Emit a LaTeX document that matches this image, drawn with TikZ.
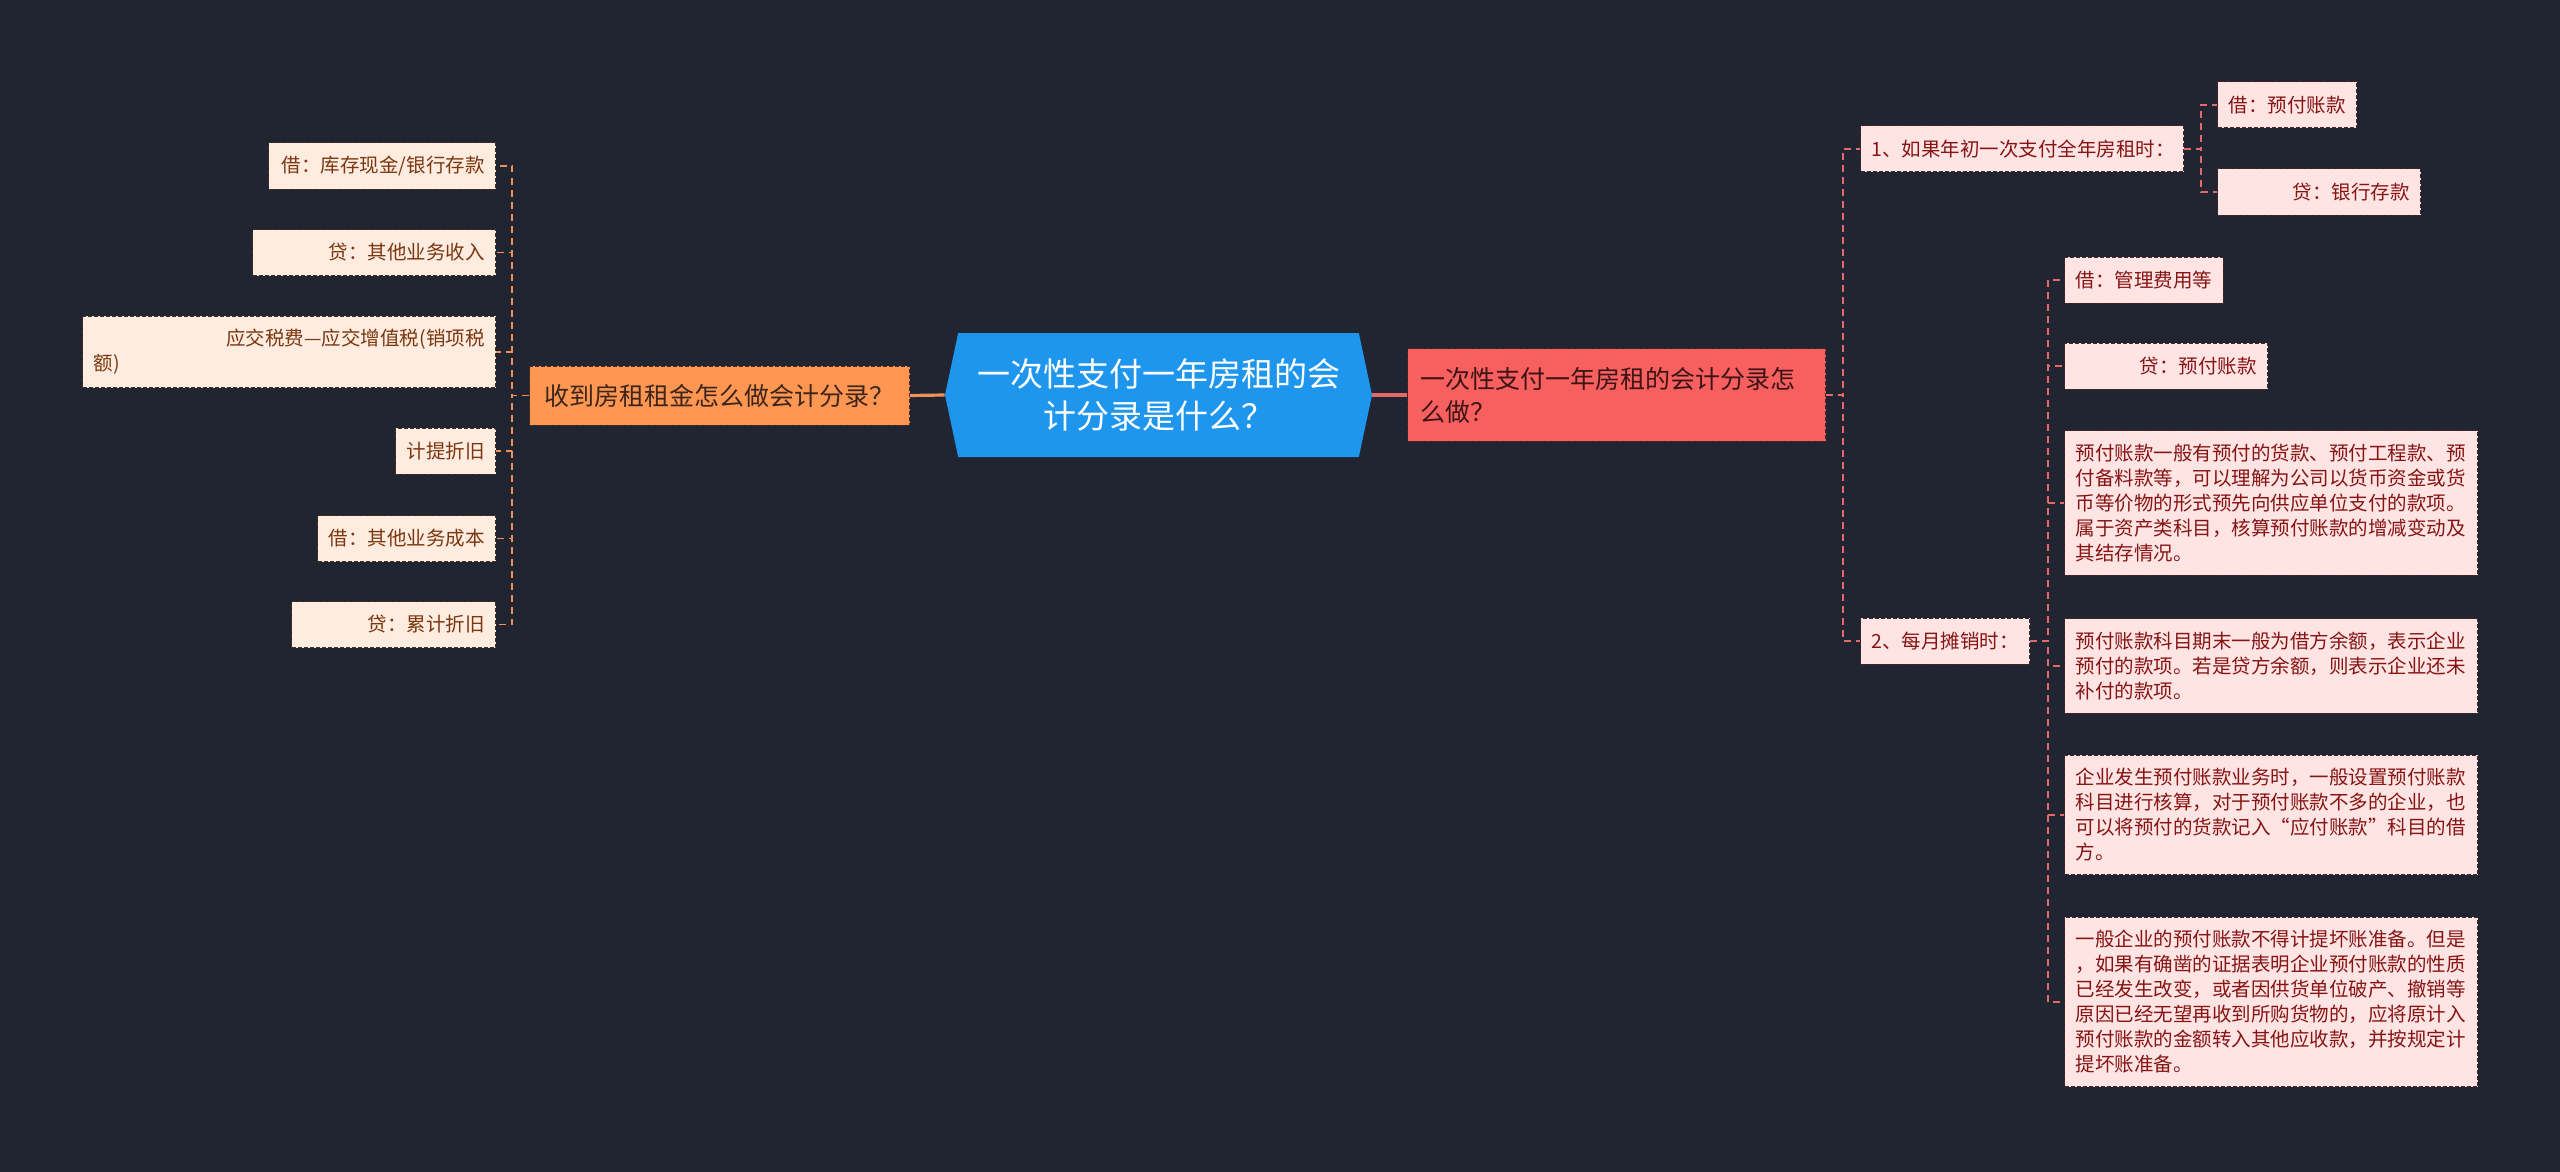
\documentclass[tikz,border=0pt]{standalone}
\usepackage{fontspec}
\newfontfamily\cjk{Noto Sans CJK SC}
\usetikzlibrary{shapes.symbols}

\definecolor{bgc}{RGB}{33,36,49}
\definecolor{rootc}{RGB}{30,150,238}
\definecolor{lmainc}{RGB}{255,150,82}
\definecolor{lleafc}{RGB}{255,236,224}
\definecolor{ltextc}{RGB}{122,55,15}
\definecolor{lborderc}{RGB}{70,45,35}
\definecolor{llinec}{RGB}{240,145,90}
\definecolor{rmainc}{RGB}{248,95,95}
\definecolor{rleafc}{RGB}{255,228,228}
\definecolor{rtextc}{RGB}{135,20,20}
\definecolor{rborderc}{RGB}{75,35,40}
\definecolor{rlinec}{RGB}{230,105,105}

\tikzset{
  box/.style={font=\cjk\fontsize{9.75}{12.5}\selectfont, inner xsep=5.5pt,
    inner ysep=6.6pt, minimum height=23pt, line width=0.5pt,
    dash pattern=on 2pt off 1pt},
  lleaf/.style={box, fill=lleafc, draw=lborderc, text=ltextc, anchor=east, align=right},
  rleaf/.style={box, fill=rleafc, draw=rborderc, text=rtextc, anchor=west, align=left},
  lline/.style={draw=llinec, line width=0.9pt, dash pattern=on 3.5pt off 2.5pt},
  rline/.style={draw=rlinec, line width=0.9pt, dash pattern=on 3.5pt off 2.5pt}
}

\begin{document}
\begin{tikzpicture}[x=0.5pt,y=-0.5pt]
  % page, in pixels of the picture (y down)
  \fill[bgc] (0,0) rectangle (2560,1172);

  % centre topic
  \node[signal, signal to=west and east, signal pointer angle=156,
    fill=rootc, minimum width=213.5pt, minimum height=62pt, inner sep=0pt,
    text=white, font=\cjk\fontsize{16.5}{21}\selectfont, align=center]
    (root) at (1158.5,395) {一次性支付一年房租的会\\计分录是什么？};

  % left branch
  \node[box, fill=lmainc, draw=lborderc, text={rgb,255:red,60;green,38;blue,28},
    font=\cjk\fontsize{12.5}{16.5}\selectfont, minimum width=190pt,
    minimum height=29.5pt, inner xsep=7.5pt, anchor=east]
    (lq) at (910,395.5) {收到房租租金怎么做会计分录？};
  \node[lleaf, text width=102.5pt] (l1) at (496,166) {借：库存现金/银行存款};
  \node[lleaf, text width=110.5pt] (l2) at (496,252.5) {贷：其他业务收入};
  \node[lleaf, text width=195.5pt, align=left] (l3) at (496,352)
    {\hspace*{\fill}应交税费—应交增值税(销项税\\额)};
  \node[lleaf, text width=39pt] (l4) at (496,451) {计提折旧};
  \node[lleaf, text width=78pt] (l5) at (496,538.5) {借：其他业务成本};
  \node[lleaf, text width=91pt] (l6) at (496,624.5) {贷：累计折旧};

  \draw[llinec, line width=1.6pt] (root.west) -- (lq.east);
  \foreach \n in {l1,l2,l3,l4,l5,l6}
    \draw[lline] (lq.west) -- ++(-17,0) |- (\n.east);

  % right branch
  \node[box, fill=rmainc, draw=rborderc, text={rgb,255:red,60;green,20;blue,22},
    font=\cjk\fontsize{12.5}{16.5}\selectfont, text width=196pt,
    inner xsep=6.5pt, inner ysep=9pt, align=left, anchor=west]
    (rq) at (1407,395) {一次性支付一年房租的会计分录怎\\么做？};

  \node[rleaf, text width=150.5pt] (r1) at (1860,149) {1、如果年初一次支付全年房租时：};
  \node[rleaf, text width=58.5pt] (r11) at (2217,105) {借：预付账款};
  \node[rleaf, text width=90.5pt, align=right] (r12) at (2217,192) {贷：银行存款};

  \node[rleaf, text width=73.5pt] (r2) at (1860,641) {2、每月摊销时：};
  \node[rleaf, text width=68.25pt] (r21) at (2064,280) {借：管理费用等};
  \node[rleaf, text width=90.5pt, align=right] (r22) at (2064,366) {贷：预付账款};
  \node[rleaf, text width=195.5pt] (r23) at (2064,503)
    {预付账款一般有预付的货款、预付工程款、预\\付备料款等，可以理解为公司以货币资金或货\\币等价物的形式预先向供应单位支付的款项。\\属于资产类科目，核算预付账款的增减变动及\\其结存情况。};
  \node[rleaf, text width=195.5pt] (r24) at (2064,666)
    {预付账款科目期末一般为借方余额，表示企业\\预付的款项。若是贷方余额，则表示企业还未\\补付的款项。};
  \node[rleaf, text width=195.5pt] (r25) at (2064,815)
    {企业发生预付账款业务时，一般设置预付账款\\科目进行核算，对于预付账款不多的企业，也\\可以将预付的货款记入“应付账款”科目的借\\方。};
  \node[rleaf, text width=195.5pt] (r26) at (2064,1002)
    {一般企业的预付账款不得计提坏账准备。但是\\，如果有确凿的证据表明企业预付账款的性质\\已经发生改变，或者因供货单位破产、撤销等\\原因已经无望再收到所购货物的，应将原计入\\预付账款的金额转入其他应收款，并按规定计\\提坏账准备。};

  \draw[rlinec, line width=1.6pt] (root.east) -- (rq.west);
  \foreach \n in {r1,r2}
    \draw[rline] (rq.east) -- ++(17,0) |- (\n.west);
  \foreach \n in {r11,r12}
    \draw[rline] (r1.east) -- ++(17,0) |- (\n.west);
  \foreach \n in {r21,r22,r23,r24,r25,r26}
    \draw[rline] (r2.east) -- ++(18,0) |- (\n.west);
\end{tikzpicture}
\end{document}
